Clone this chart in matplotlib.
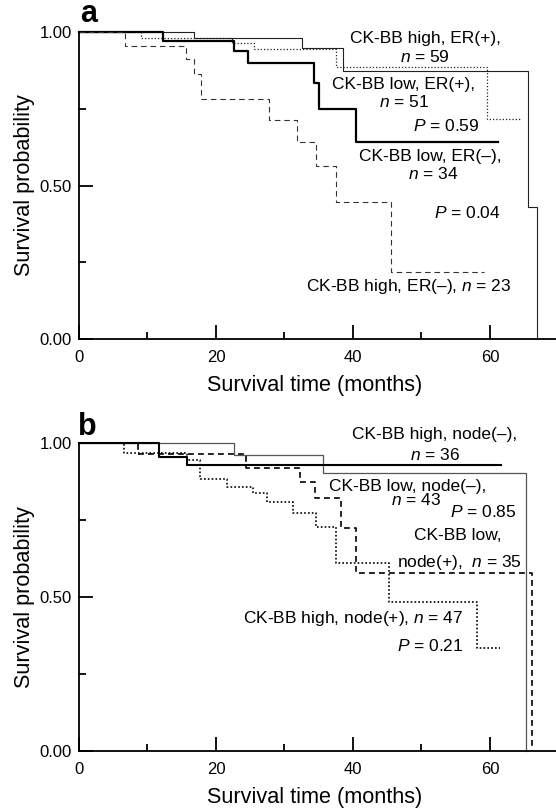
import matplotlib.pyplot as plt
from matplotlib.ticker import MultipleLocator

plt.rcParams["font.family"] = ["Liberation Sans", "DejaVu Sans"]
plt.rcParams["mathtext.fontset"] = "custom"
plt.rcParams["mathtext.rm"] = "Liberation Sans"
plt.rcParams["mathtext.it"] = "Liberation Sans:italic"

# panel a: ER status
a_high_pos_t = [0, 16.8, 32.6, 38.5, 65.6, 66.9]
a_high_pos_s = [1.0, 0.979, 0.947, 0.873, 0.431, 0.0]
a_high_pos_end = 66.9

a_low_pos_t = [0, 9.0, 22.4, 25.6, 37.5, 59.6]
a_low_pos_s = [1.0, 0.981, 0.965, 0.946, 0.887, 0.717]
a_low_pos_end = 64.4

a_low_neg_t = [0, 12.2, 22.6, 24.7, 34.3, 35.1, 40.5]
a_low_neg_s = [1.0, 0.971, 0.938, 0.900, 0.835, 0.749, 0.643]
a_low_neg_end = 61.2

a_high_neg_t = [0, 6.7, 15.6, 16.8, 17.8, 27.7, 31.8, 34.6, 37.5, 45.6]
a_high_neg_s = [1.0, 0.955, 0.911, 0.863, 0.781, 0.713, 0.643, 0.565, 0.447, 0.219]
a_high_neg_end = 59.1

# panel b: node status
b_high_neg_t = [0, 11.7, 15.7]
b_high_neg_s = [1.0, 0.957, 0.930]
b_high_neg_end = 61.6

b_low_neg_t = [0, 22.6, 35.6, 65.3]
b_low_neg_s = [1.0, 0.961, 0.904, 0.0]
b_low_neg_end = 65.3

b_low_pos_t = [0, 8.6, 24.4, 32.3, 34.5, 38.3, 40.5, 66.1]
b_low_pos_s = [1.0, 0.964, 0.921, 0.875, 0.821, 0.723, 0.577, 0.0]
b_low_pos_end = 66.1

b_high_pos_t = [0, 6.6, 15.8, 17.6, 21.6, 25.4, 27.4, 31.3, 34.6, 37.5, 45.2, 58.1]
b_high_pos_s = [1.0, 0.969, 0.945, 0.884, 0.859, 0.837, 0.808, 0.772, 0.727, 0.612, 0.485, 0.333]
b_high_pos_end = 61.5

W, H = 556, 808
fig = plt.figure(figsize=(W / 100, H / 100), dpi=100)


def km(ax, t, s, end, **kw):
    ax.step(t + [end], s + [s[-1]], where="post", clip_on=False, **kw)


def setup(ax):
    ax.set_xlim(0, 69.64)
    ax.set_ylim(0, 1)
    ax.spines["top"].set_visible(False)
    ax.spines["right"].set_visible(False)
    for sp in ("left", "bottom"):
        ax.spines[sp].set_linewidth(1.3)
    ax.xaxis.set_major_locator(MultipleLocator(20))
    ax.xaxis.set_minor_locator(MultipleLocator(10))
    ax.yaxis.set_major_locator(MultipleLocator(0.5))
    ax.yaxis.set_minor_locator(MultipleLocator(0.25))
    ax.set_xticks([0, 20, 40, 60])
    ax.set_yticks([0, 0.5, 1.0])
    ax.set_yticklabels(["0.00", "0.50", "1.00"])
    ax.tick_params(which="both", direction="in", width=1.3, labelsize=12)
    ax.tick_params(which="major", length=10)
    ax.tick_params(which="minor", length=5)
    ax.tick_params(axis="x", pad=8)
    ax.tick_params(axis="y", pad=5)
    ax.set_xlabel("Survival time (months)", fontsize=15.6)
    ax.xaxis.set_label_coords(0.493, -0.118)
    ax.set_ylabel("Survival probability", fontsize=15.6)
    ax.yaxis.set_label_coords(-0.092, 0.5)


def put(x, y, s, ha="center"):
    fig.text(x / W, 1 - y / H, s, ha=ha, va="center", fontsize=12.5)


ax1 = fig.add_axes([79 / W, 1 - 339 / H, 1 - 79 / W, 307 / H])
setup(ax1)
km(ax1, a_high_pos_t, a_high_pos_s, a_high_pos_end, color="#222222", lw=0.8)
km(ax1, a_low_pos_t, a_low_pos_s, a_low_pos_end, color="#222222", lw=0.9, linestyle=(0, (1, 1.6)))
km(ax1, a_low_neg_t, a_low_neg_s, a_low_neg_end, color="black", lw=1.6)
km(ax1, a_high_neg_t, a_high_neg_s, a_high_neg_end, color="#333333", lw=0.8, linestyle=(0, (5, 3.5)))

ax2 = fig.add_axes([79 / W, 1 - 750.7 / H, 1 - 79 / W, 307.4 / H])
setup(ax2)
km(ax2, b_low_neg_t, b_low_neg_s, b_low_neg_end, color="#555555", lw=0.9)
km(ax2, b_high_neg_t, b_high_neg_s, b_high_neg_end, color="black", lw=1.5)
km(ax2, b_low_pos_t, b_low_pos_s, b_low_pos_end, color="black", lw=1.2, linestyle=(0, (3.5, 2.5)))
km(ax2, b_high_pos_t, b_high_pos_s, b_high_pos_end, color="black", lw=1.2, linestyle=(0, (1, 1.3)))

fig.text(80 / W, 1 - 22 / H, "a", fontsize=22, fontweight="bold", ha="left", va="baseline")
fig.text(78 / W, 1 - 435 / H, "b", fontsize=22, fontweight="bold", ha="left", va="baseline")

put(425, 39, "CK-BB high, ER(+),")
put(425, 57, r"$n$ = 59")
put(403, 85, "CK-BB low, ER(+),")
put(404, 102, r"$n$ = 51")
put(479, 126, r"$P$ = 0.59", ha="right")
put(430, 156, "CK-BB low, ER(–),")
put(433, 174, r"$n$ = 34")
put(501, 213, r"$P$ = 0.04", ha="right")
put(409, 287, r"CK-BB high, ER(–), $n$ = 23")

put(435, 435, "CK-BB high, node(–),")
put(435, 455, r"$n$ = 36")
put(408, 486, "CK-BB low, node(–),")
put(416, 500, r"$n$ = 43")
put(517, 512, r"$P$ = 0.85", ha="right")
put(501, 535, "CK-BB low,", ha="right")
put(522, 562, r"node(+),  $n$ = 35", ha="right")
put(463, 618, r"CK-BB high, node(+), $n$ = 47", ha="right")
put(463, 646, r"$P$ = 0.21", ha="right")

fig.savefig("out.png", dpi=100)
